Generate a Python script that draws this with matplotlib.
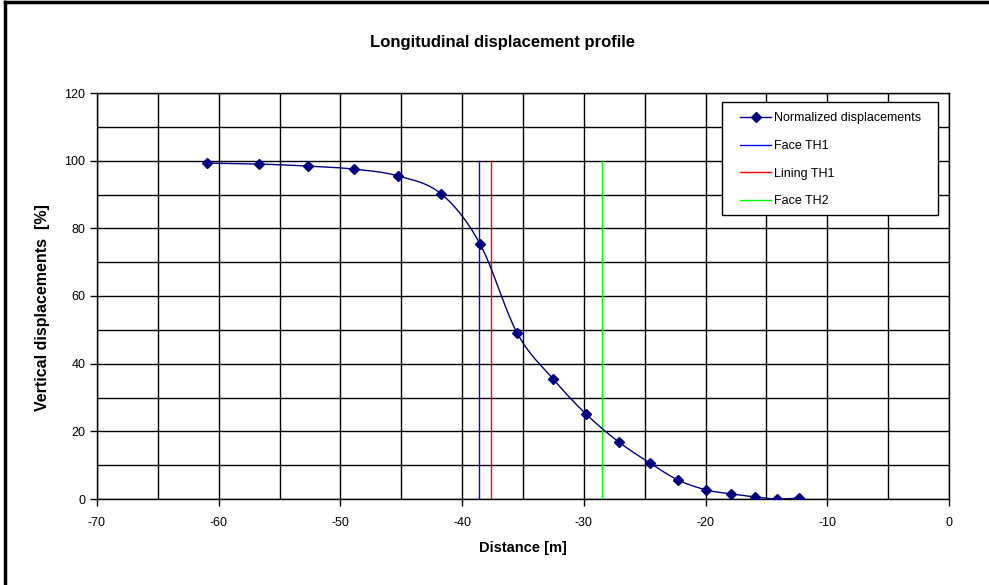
import numpy as np
import matplotlib
matplotlib.use("Agg")
import matplotlib.pyplot as plt
from matplotlib.lines import Line2D
from matplotlib.patches import Rectangle

plt.rcParams['font.family'] = ['Liberation Sans', 'DejaVu Sans']
plt.rcParams['axes.unicode_minus'] = False

distance = [-60.96, -56.7, -52.66, -48.88, -45.27, -41.73, -38.53, -35.49, -32.53,
            -29.82, -27.11, -24.56, -22.26, -19.96, -17.9, -15.9, -14.1, -12.3]
displacement = [99.3, 99.0, 98.4, 97.5, 95.5, 90.2, 75.4, 49.1, 35.5,
                25.1, 16.8, 10.6, 5.6, 2.7, 1.5, 0.6, 0.0, 0.3]
face_th1 = -38.6
lining_th1 = -37.6
face_th2 = -28.5
marker_line_top = 100

def smooth(x, y, n=20):
    x = np.asarray(x, float); y = np.asarray(y, float)
    px = np.concatenate([[2*x[0]-x[1]], x, [2*x[-1]-x[-2]]])
    py = np.concatenate([[2*y[0]-y[1]], y, [2*y[-1]-y[-2]]])
    xs, ys = [], []
    for i in range(1, len(px)-2):
        t = np.linspace(0, 1, n, endpoint=False)
        for arr, out in ((px, xs), (py, ys)):
            p0, p1, p2, p3 = arr[i-1], arr[i], arr[i+1], arr[i+2]
            out.extend(0.5*((2*p1) + (-p0+p2)*t + (2*p0-5*p1+4*p2-p3)*t**2 + (-p0+3*p1-3*p2+p3)*t**3))
    xs.append(x[-1]); ys.append(y[-1])
    return np.array(xs), np.array(ys)

W, H = 989, 585
AX_L, AX_R, AX_T, AX_B = 97, 949, 93, 499
AW, AH = AX_R - AX_L, AX_B - AX_T

fig = plt.figure(figsize=(9.89, 5.85), dpi=100)
ax = fig.add_axes([AX_L/W, 1-AX_B/H, AW/W, AH/H])

sx, sy = smooth(distance, displacement)
navy = '#000080'
ax.plot(sx, sy, color=navy, lw=1, zorder=4)
ax.plot(distance, displacement, linestyle='none', marker='D', ms=5, color=navy, zorder=5)
ax.plot([], [], color=navy, lw=1, marker='D', ms=5, label='Normalized displacements')
ax.plot([face_th1, face_th1], [0, marker_line_top], color='#0000ff', lw=1, label='Face TH1', zorder=3)
ax.plot([lining_th1, lining_th1], [0, marker_line_top], color='#ff0000', lw=1, label='Lining TH1', zorder=3)
ax.plot([face_th2, face_th2], [0, marker_line_top], color='#00ff00', lw=1, label='Face TH2', zorder=3)

ax.set_xlim(-70, 0)
ax.set_ylim(0, 120)
ax.set_xticks(np.arange(-70, 1, 10))
ax.set_xticks(np.arange(-70, 1, 5), minor=True)
ax.set_yticks(np.arange(0, 121, 20))
ax.set_yticks(np.arange(0, 121, 10), minor=True)
ax.grid(True, which='both', color='black', lw=1)
ax.set_axisbelow(True)
ax.tick_params(which='major', direction='out', length=5, width=1, labelsize=9, color='black')
ax.tick_params(axis='x', pad=8)
ax.tick_params(which='minor', length=0)
for s in ax.spines.values():
    s.set_color('black'); s.set_linewidth(1)

ax.set_xlabel('Distance [m]', fontsize=10.5, fontweight='bold')
ax.xaxis.set_label_coords(0.5, (AX_B-541)/AH)
ax.set_ylabel('Vertical displacements  [%]', fontsize=11.5, fontweight='bold')
ax.yaxis.set_label_coords((50-AX_L)/AW, (AX_B-307.5)/AH)
fig.text(503/W, 1-42/H, 'Longitudinal displacement profile', fontsize=12, fontweight='bold',
         ha='center', va='center')

# legend frame
ax.add_patch(Rectangle(((722-AX_L)/AW, (AX_B-215)/AH), 216/AW, 113/AH, transform=ax.transAxes,
                       facecolor='white', edgecolor='black', lw=1, zorder=6, clip_on=False))
leg = ax.legend(loc='upper left', bbox_to_anchor=((728.75-AX_L)/AW, 1 - 8/AH), fontsize=9,
                frameon=False, handlelength=2.5, labelspacing=1.25, borderpad=0.9,
                handletextpad=0.25, borderaxespad=0)
leg.set_zorder(7)

fig.add_artist(Line2D([5/W, 5/W], [0, 1-2/H], transform=fig.transFigure, color='black', lw=2.5))
fig.add_artist(Line2D([5/W, 1], [1-2/H, 1-2/H], transform=fig.transFigure, color='black', lw=2.5))
fig.savefig('out.png', dpi=100, facecolor='white')
